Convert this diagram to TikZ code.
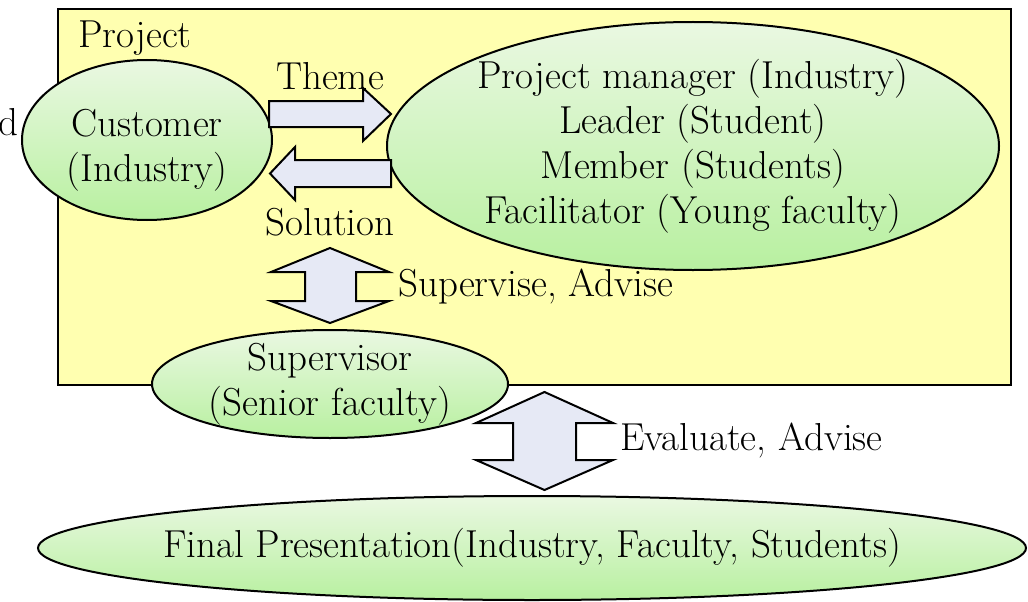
\documentclass[tikz,border=0pt]{standalone}
\usetikzlibrary{shapes.geometric}
\definecolor{projyellow}{HTML}{FFFFB0}
\definecolor{elltop}{HTML}{EAF8E2}
\definecolor{ellbot}{HTML}{B8F0A0}
\definecolor{arrowfill}{HTML}{E6E9F5}
\tikzset{
 bigfont/.style={font=\fontsize{39}{45}\selectfont},
 ell/.style={ellipse, draw=black, line width=2pt, top color=elltop, bottom color=ellbot, inner sep=-10pt, align=center, bigfont},
 lbl/.style={bigfont, inner sep=0pt},
 blockarrow/.style={draw=black, line width=2pt, fill=arrowfill, line join=miter},
}
\begin{document}
\begin{tikzpicture}[x=1pt,y=-1pt]
\useasboundingbox (0,0) rectangle (1028,602);
\node[draw=black, line width=2pt, fill=projyellow, minimum width=953pt, minimum height=376pt, anchor=north west, inner sep=0pt] (project) at (57,8) {};
\node[lbl, anchor=west] (projlbl) at (78,38) {Project};
\node[lbl, anchor=east] (dlbl) at (19,122) {d};

\node[ell, minimum width=250pt, minimum height=160pt, text height=92pt] (customer) at (147,140) {Customer\\(Industry)};
\node[ell, minimum width=612pt, minimum height=248pt] (team) at (693,146) {Project manager (Industry)\\Leader (Student)\\Member (Students)\\Facilitator (Young faculty)};
\node[ell, minimum width=356pt, minimum height=108pt, inner ysep=-25pt] (supervisor) at (330,384) {Supervisor\\(Senior faculty)};
\node[ell, minimum width=988pt, minimum height=104pt, inner xsep=-80pt] (final) at (532,548) {Final Presentation(Industry, Faculty, Students)};

% Theme arrow
\draw[blockarrow] (269,101) -- (363,101) -- (363,88) -- (391,114) -- (363,141) -- (363,127) -- (269,127) -- cycle;
% Solution arrow
\draw[blockarrow] (391,160) -- (295,160) -- (295,147) -- (270,173.5) -- (295,200) -- (295,187) -- (391,187) -- cycle;
% Supervise double arrow
\draw[blockarrow] (305,272) -- (271,272) -- (330,248) -- (389,272) -- (356,272) -- (356,301) -- (389,301) -- (330,323) -- (271,301) -- (305,301) -- cycle;
% Evaluate double arrow
\draw[blockarrow] (513,423) -- (476,423) -- (544.5,392) -- (613,423) -- (576,423) -- (576,460) -- (613,460) -- (544.5,490) -- (476,460) -- (513,460) -- cycle;

\node[lbl] (theme) at (330,76) {Theme};
\node[lbl] (solution) at (330,222) {Solution};
\node[lbl, anchor=west] (supadv) at (398,287) {Supervise, Advise};
\node[lbl, anchor=west] (evaladv) at (620,440) {Evaluate, Advise};
\end{tikzpicture}
\end{document}
